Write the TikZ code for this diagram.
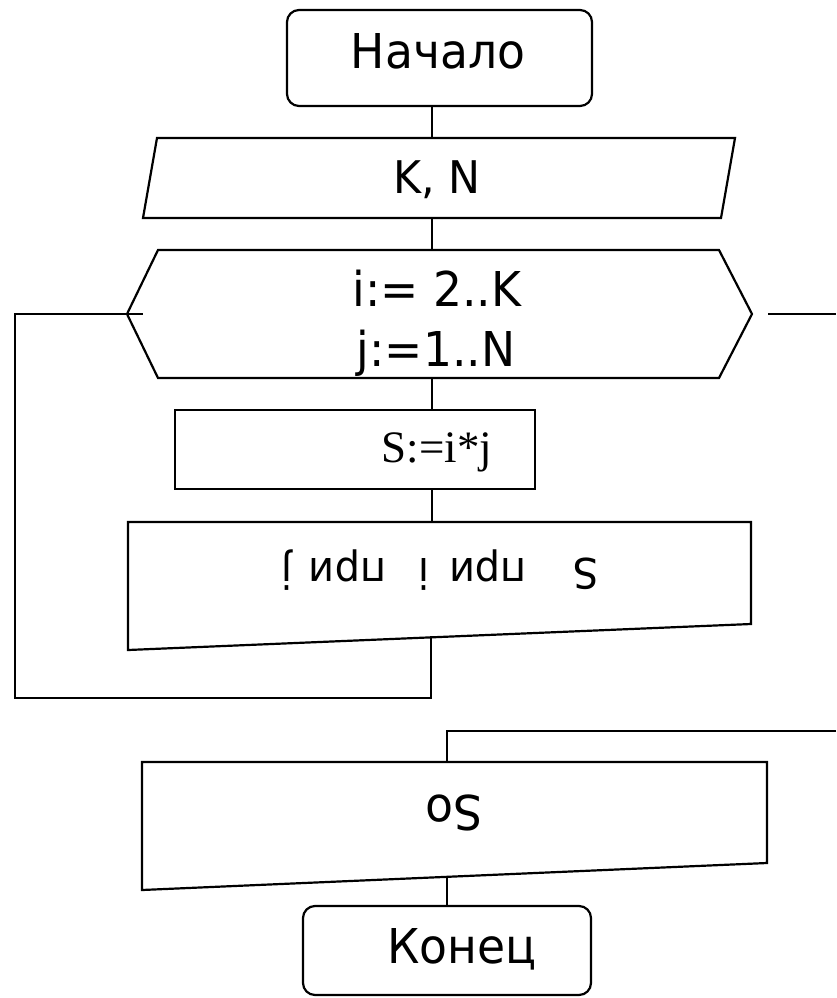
\documentclass[tikz,border=0pt]{standalone}
\usepackage{fontspec}
\setmainfont{DejaVu Sans}[FakeStretch=0.95]
\newfontfamily\procfont{Liberation Serif}
\begin{document}
\begin{tikzpicture}[x=1pt,y=-1pt,line width=2.2pt,
  lbl/.style={inner sep=0pt,anchor=base,font=\fontsize{48}{58}\selectfont},
  lblsm/.style={lbl,font=\fontsize{45}{54}\selectfont},
  lblout/.style={lbl,font=\fontsize{42}{50}\selectfont},
  lblproc/.style={inner sep=0pt,anchor=base,font=\procfont\fontsize{45}{54}\selectfont}]
\fill[white] (0,0) rectangle (836,998);
\useasboundingbox (0,0) rectangle (836,998);

% Start terminal
\draw[rounded corners=12pt] (287,10) rectangle (592,106);
\coordinate (startS) at (432,106);
\node[lbl] (start) at (438,68) {Начало};

% Input
\draw (157,138) -- (735,138) -- (721,218) -- (143,218) -- cycle;
\coordinate (inT) at (432,138);
\coordinate (inB) at (432,218);
\node[lblsm] (input) at (437,193) {K, N};

% Loop hexagon
\draw (127,314) -- (158,250) -- (719,250) -- (752,314) -- (719,378) -- (158,378) -- cycle;
\coordinate (loopT) at (432,250);
\coordinate (loopB) at (432,378);
\coordinate (loopIn) at (143,314);
\coordinate (loopOut) at (768,314);
\coordinate (edgeA) at (836,314);
\node[lbl] (loopi) at (437,306) {i:= 2..K};
\node[lbl] (loopj) at (436,366) {j:=1..N};

% Process
\draw (175,410) rectangle (535,489);
\coordinate (procT) at (432,410);
\coordinate (procB) at (432,489);
\node[lblproc] (proc) at (437,462) {S:=i*j};

% Output 1
\draw (128,522) -- (751,522) -- (751,624) -- (128,650) -- cycle;
\coordinate (out1T) at (432,522);
\coordinate (out1B) at (431,636);
\node[lblout,rotate=180] (out1) at (440,558) {S\hspace{46pt}при\hspace{20pt}i\hspace{32pt}при\hspace{16pt}j};

% Output 2
\draw (142,762) -- (767,762) -- (767,863) -- (142,890) -- cycle;
\coordinate (out2T) at (447,762);
\coordinate (out2B) at (447,877);
\node[lbl,rotate=180] (out2) at (454,795) {So};

% End terminal
\draw[rounded corners=12pt] (303,906) rectangle (591,995);
\coordinate (endT) at (447,906);
\node[lbl] (end) at (462,963) {Конец};

% Connectors
\draw (startS) -- (inT);
\draw (inB) -- (loopT);
\draw (loopB) -- (procT);
\draw (procB) -- (out1T);
\coordinate (backL) at (15,698);
\draw (out1B) |- (backL) |- (loopIn);
\draw (loopOut) -- (edgeA);
\coordinate (edgeB) at (836,731);
\draw (edgeB) -| (out2T);
\draw (out2B) -- (endT);
\end{tikzpicture}
\end{document}
